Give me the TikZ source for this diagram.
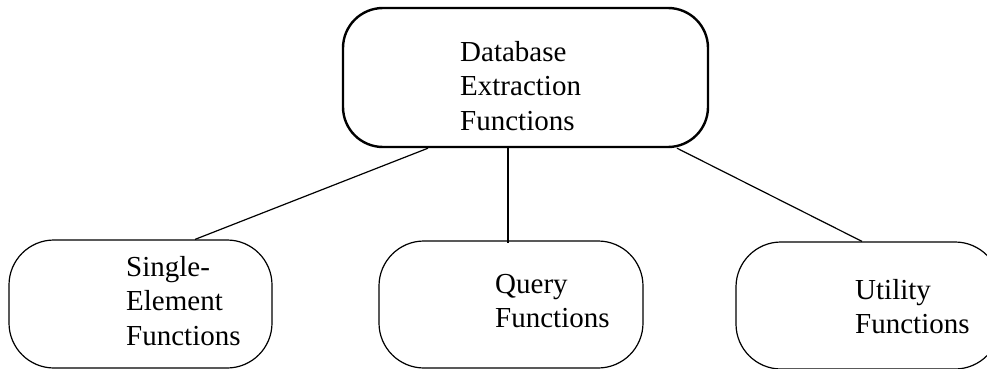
\documentclass[tikz,border=0pt]{standalone}
\usepackage{fontspec}
\setmainfont{Liberation Serif}
\usetikzlibrary{positioning}
\usetikzlibrary{calc}
\tikzset{
	box/.style={draw,rounded corners=45pt,line width=1.2pt,inner sep=0pt},
	boxtext/.style={anchor=north west,align=left,inner sep=0pt,font=\fontsize{29}{34.5}\selectfont},
	link/.style={line width=1.2pt},
}

\begin{document}
\begin{tikzpicture}[x=1pt,y=-1pt]
	\useasboundingbox (0,0) rectangle (987,369);

	% top box.....................
	\node [box, rounded corners=40pt, line width=2.4pt, minimum width=365pt, minimum height=139pt] (db) at (525.5,77.5) {};
	\node [boxtext] (dbtext) at (460,41) {Database\\Extraction\\Functions};

	% lower boxes.....................
	\node [box, minimum width=263pt, minimum height=128pt] (single) at (140.5,304) {};
	\node [boxtext] (singletext) at (126,256) {Single-\\Element\\Functions};

	\node [box, minimum width=264pt, minimum height=127pt] (query) at (511,304.5) {};
	\node [boxtext] (querytext) at (495,274) {Query\\Functions};

	\node [box, minimum width=264pt, minimum height=127pt] (utility) at (868,305.5) {};
	\node [boxtext] (utilitytext) at (855,279) {Utility\\Functions};

	% links.....................
	\draw [link] ([xshift=-97.5pt]db.south) -- ([xshift=54.5pt]single.north);
	\draw [link, line width=1.8pt] ([xshift=-17.5pt]db.south) -- ([xshift=-3pt,yshift=-3pt]query.north);
	\draw [link] ([xshift=151.5pt]db.south) -- ([xshift=-6pt]utility.north);
\end{tikzpicture}
\end{document}
